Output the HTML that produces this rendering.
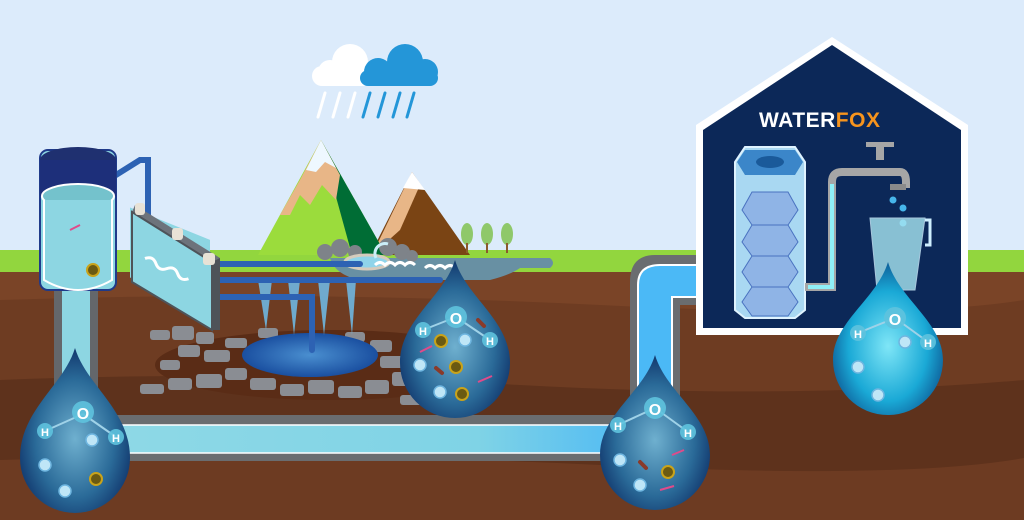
<!DOCTYPE html>
<html><head><meta charset="utf-8"><style>html,body{margin:0;padding:0;width:1024px;height:520px;overflow:hidden;background:#dcebfb}</style></head>
<body>
<svg width="1024" height="520" viewBox="0 0 1024 520" xmlns="http://www.w3.org/2000/svg" font-family="Liberation Sans, sans-serif">
<defs>
<radialGradient id="dg" cx="0.5" cy="0.55" r="0.6"><stop offset="0" stop-color="#6fb0cf"/><stop offset="0.6" stop-color="#2a6a98"/><stop offset="1" stop-color="#0b2a62"/></radialGradient>
<radialGradient id="dc" cx="0.5" cy="0.55" r="0.6"><stop offset="0" stop-color="#7fe6f7"/><stop offset="0.6" stop-color="#1aa9d6"/><stop offset="1" stop-color="#0b4a88"/></radialGradient>
<linearGradient id="pg" x1="0" x2="1"><stop offset="0" stop-color="#8fd9e6"/><stop offset="0.7" stop-color="#7fd3e6"/><stop offset="1" stop-color="#4cb8f5"/></linearGradient>
<radialGradient id="pool" cx="0.5" cy="0.5" r="0.5"><stop offset="0" stop-color="#4a8fd0"/><stop offset="1" stop-color="#1a4fa0"/></radialGradient>
</defs>
<rect width="1024" height="520" fill="#dcebfb"/>
<rect y="250" width="1024" height="25" fill="#92d63e"/>
<rect y="272" width="1024" height="248" fill="#7a4427"/>
<path d="M0 300 Q300 290 600 305 T1024 300 V520 H0Z" fill="#6e3c22"/>
<path d="M0 380 Q250 370 520 385 T1024 380 V520 H0Z" fill="#5e321c"/>
<path d="M0 460 Q300 450 600 465 T1024 458 V520 H0Z" fill="#6d3b22"/>
<!-- clouds -->
<g fill="#fff"><circle cx="330" cy="72" r="12"/><circle cx="350" cy="62" r="18"/><rect x="312" y="66" width="60" height="20" rx="10"/></g>
<g fill="#2496d8"><circle cx="378" cy="72" r="14"/><circle cx="405" cy="62" r="18"/><circle cx="425" cy="72" r="13"/><rect x="360" y="70" width="78" height="16" rx="8"/></g>
<g stroke="#fff" stroke-width="3" stroke-linecap="round"><line x1="325" y1="93" x2="318" y2="117"/><line x1="340" y1="93" x2="333" y2="117"/><line x1="355" y1="93" x2="348" y2="117"/></g>
<g stroke="#2496d8" stroke-width="3" stroke-linecap="round"><line x1="370" y1="93" x2="363" y2="117"/><line x1="385" y1="93" x2="378" y2="117"/><line x1="400" y1="93" x2="393" y2="117"/><line x1="414" y1="93" x2="407" y2="117"/></g>
<!-- mountains -->
<polygon points="370,255 412,172 470,255" fill="#7a4414"/>
<polygon points="372,255 412,172 420,185 400,230" fill="#e8b687"/>
<polygon points="403,188 412,172 425,190" fill="#fff"/>
<polygon points="258,255 321,140 386,255" fill="#9bdc3c"/>
<polygon points="321,140 386,255 352,255 330,175" fill="#006d35"/>
<polygon points="280,215 300,180 321,140 340,175 336,200 322,185 310,205 300,195 290,215" fill="#e8b687"/>
<polygon points="306,170 321,140 336,168 325,162 316,172" fill="#eef8ff"/>
<g fill="#8fc86a"><ellipse cx="467" cy="234" rx="6" ry="11"/><ellipse cx="487" cy="234" rx="6" ry="11"/><ellipse cx="507" cy="234" rx="6" ry="11"/></g>
<g stroke="#8a5a2b" stroke-width="2"><line x1="467" y1="243" x2="467" y2="253"/><line x1="487" y1="243" x2="487" y2="253"/><line x1="507" y1="243" x2="507" y2="253"/></g>
<!-- lake -->
<path d="M330 258 H550 Q556 263 550 268 H520 Q510 275 490 280 H360 Q335 275 330 258Z" fill="#6890a3"/>
<g fill="#7e8389"><circle cx="325" cy="252" r="8"/><circle cx="340" cy="248" r="9"/><circle cx="355" cy="252" r="7"/><circle cx="388" cy="247" r="9"/><circle cx="402" cy="252" r="8"/><circle cx="412" cy="256" r="6"/></g>
<ellipse cx="367" cy="262" rx="22" ry="7" fill="#8fd4ea" stroke="#d5cbbd" stroke-width="3"/>
<path d="M388 244 a10 10 0 0 0 -12 14" stroke="#cbeef8" stroke-width="3" fill="none"/>
<path d="M375 265 q5 -5 10 0 q5 -5 10 0 q5 -5 10 0 q5 -5 10 0 M425 268 q5 -5 10 0 q5 -5 10 0 q5 -5 10 0" stroke="#fff" stroke-width="3" fill="none"/>
<!-- rocks pit -->
<ellipse cx="330" cy="365" rx="175" ry="35" fill="#5a2c16"/>
<g fill="#8a8d93">
<rect x="150" y="330" width="20" height="10" rx="3"/><rect x="172" y="326" width="22" height="14" rx="3"/><rect x="196" y="332" width="18" height="12" rx="3"/><rect x="178" y="345" width="22" height="12" rx="3"/><rect x="204" y="350" width="26" height="12" rx="3"/><rect x="160" y="360" width="20" height="10" rx="3"/><rect x="140" y="384" width="24" height="10" rx="3"/><rect x="168" y="378" width="24" height="12" rx="3"/><rect x="196" y="374" width="26" height="14" rx="3"/><rect x="225" y="368" width="22" height="12" rx="3"/><rect x="250" y="378" width="26" height="12" rx="3"/><rect x="280" y="384" width="24" height="12" rx="3"/><rect x="308" y="380" width="26" height="14" rx="3"/><rect x="338" y="386" width="24" height="12" rx="3"/><rect x="365" y="380" width="24" height="14" rx="3"/><rect x="392" y="372" width="24" height="14" rx="3"/><rect x="400" y="395" width="24" height="10" rx="3"/><rect x="225" y="338" width="22" height="10" rx="3"/><rect x="258" y="328" width="20" height="10" rx="3"/><rect x="370" y="340" width="22" height="12" rx="3"/><rect x="380" y="356" width="24" height="12" rx="3"/><rect x="345" y="332" width="20" height="10" rx="3"/>
</g>
<ellipse cx="310" cy="355" rx="68" ry="22" fill="url(#pool)"/>
<!-- jets -->
<g fill="#6fb6e0" opacity="0.9"><polygon points="258,280 272,280 266,330"/><polygon points="288,280 300,280 294,335"/><polygon points="318,280 330,280 324,335"/><polygon points="346,280 356,280 352,335"/></g>
<!-- pipes blue small -->
<g stroke="#2d62b3" stroke-width="6" fill="none" stroke-linecap="round"><path d="M215 264 H360"/><path d="M215 280 H440"/><path d="M215 297 H312 V350"/><path d="M100 185 L140 160 H148 V260 L140 266"/></g>
<!-- tank -->
<rect x="130" y="210" width="80" height="70" fill="#8dd6e2" transform="skewY(22) translate(0,-55)"/>
<polygon points="132,212 135,205 220,258 217,266" fill="#6d737b"/>
<polygon points="212,262 220,258 220,330 212,330" fill="#4e5359"/>
<polygon points="132,212 212,262 212,330 132,282" fill="#8dd6e2" stroke="#4e5359" stroke-width="2"/>
<path d="M142 268 q6 -6 12 0 q6 6 12 0 q6 -6 12 0 q6 6 12 0" stroke="#fff" stroke-width="3" fill="none" transform="rotate(25 165 270)"/>
<g fill="#e8e2d6"><rect x="135" y="203" width="10" height="12" rx="3"/><rect x="172" y="228" width="11" height="12" rx="3"/><rect x="203" y="253" width="12" height="12" rx="3"/></g>
<!-- left vertical pipe -->
<rect x="54" y="290" width="44" height="140" fill="#64676b"/>
<rect x="62" y="290" width="28" height="140" fill="#8dd6e2"/>
<rect x="40" y="150" width="76" height="140" rx="8" fill="#8dd6e2" stroke="#1f3a8a" stroke-width="2"/>
<ellipse cx="78" cy="160" rx="38" ry="13" fill="#1f3070"/>
<rect x="40" y="160" width="76" height="36" fill="#1d2f7a"/>
<ellipse cx="78" cy="196" rx="36" ry="12" fill="#74c2cc" stroke="#fff" stroke-width="2"/>
<path d="M44 200 V280 Q78 300 112 280 V200" fill="#8dd6e2" stroke="#fff" stroke-width="2"/>
<!-- horizontal big pipe -->
<rect x="90" y="415" width="560" height="46" fill="#6a6d70"/>
<rect x="90" y="425" width="555" height="28" fill="url(#pg)" stroke="#fff" stroke-width="1.5"/>
<!-- right L pipe -->
<path d="M630 430 V282 Q630 255 655 255 H745 V305 H680 V430Z" fill="#6a6d70"/>
<path d="M638 430 V285 Q638 265 660 265 H740 V297 H672 V430Z" fill="#4bb9f6" stroke="#fff" stroke-width="2"/>
<!-- house -->
<polygon points="832,37 968,125 968,335 696,335 696,125" fill="#fff"/>
<polygon points="832,45 961,130 961,328 703,328 703,130" fill="#0c2858"/>
<text x="759" y="127" font-size="21" font-weight="bold" fill="#fff" letter-spacing="0.5">WATER<tspan fill="#f7941d">FOX</tspan></text>
<!-- filter -->
<polygon points="745,147 795,147 805,162 805,310 795,318 745,318 735,310 735,162" fill="#a9d8f2" stroke="#dff3ff" stroke-width="2"/>
<polygon points="745,150 795,150 803,162 795,175 745,175 737,162" fill="#3b86c9"/>
<ellipse cx="770" cy="162" rx="14" ry="6" fill="#1a5a9a"/>
<g fill="#8fb4e6" stroke="#4a72c0" stroke-width="1"><polygon points="752,192 788,192 798,210 788,225 752,225 742,210"/><polygon points="752,225 788,225 798,242 788,256 752,256 742,242"/><polygon points="752,256 788,256 798,272 788,287 752,287 742,272"/><polygon points="752,287 788,287 798,302 788,316 752,316 742,302"/></g>
<path d="M805 287 H832 V182 Q832 172 842 172 H900" stroke="#a6a6a6" stroke-width="8" fill="none"/>
<path d="M808 287 H832 V184" stroke="#8ff0f7" stroke-width="4" fill="none"/>
<rect x="876" y="144" width="8" height="16" fill="#a6a6a6"/><rect x="866" y="142" width="28" height="5" fill="#a6a6a6"/>
<path d="M870 172 H900 Q906 172 906 182 V188" stroke="#a6a6a6" stroke-width="8" fill="none"/>
<rect x="890" y="184" width="16" height="6" fill="#8a8a8a"/>
<g fill="#47b6ea"><circle cx="893" cy="200" r="3.5"/><circle cx="903" cy="208" r="3.5"/><circle cx="903" cy="223" r="3.5"/></g>
<path d="M870 218 H925 L915 290 H877Z" fill="#a8e6f2" opacity="0.8" stroke="#cfefff"/>
<path d="M925 220 H930 V245 H925" stroke="#cfefff" stroke-width="3" fill="none"/>
<!-- drops -->
<g id="d1"><path d="M75 348 C86 385 130 410 130 458 A55 55 0 0 1 20 458 C20 410 64 385 75 348Z" fill="url(#dg)"/></g>
<path d="M455 260 C466 297 510 320 510 363 A55 55 0 0 1 400 363 C400 320 444 297 455 260Z" fill="url(#dg)"/>
<path d="M655 355 C666 392 710 415 710 455 A55 55 0 0 1 600 455 C600 415 644 392 655 355Z" fill="url(#dg)"/>
<path d="M888 262 C899 299 943 322 943 360 A55 55 0 0 1 833 360 C833 322 877 299 888 262Z" fill="url(#dc)"/>
<!-- molecules -->
<g font-weight="bold" fill="#fff" text-anchor="middle">
<g stroke="#9fd2e8" stroke-width="2"><line x1="45" y1="431" x2="83" y2="414"/><line x1="83" y1="414" x2="116" y2="437"/><line x1="423" y1="330" x2="456" y2="317"/><line x1="456" y1="317" x2="490" y2="340"/><line x1="618" y1="425" x2="655" y2="408"/><line x1="655" y1="408" x2="688" y2="432"/><line x1="858" y1="333" x2="895" y2="318"/><line x1="895" y1="318" x2="928" y2="342"/></g>
<g fill="#5fc3de" opacity="0.9"><circle cx="83" cy="412" r="11"/><circle cx="45" cy="431" r="8"/><circle cx="116" cy="437" r="8"/><circle cx="456" cy="317" r="11"/><circle cx="423" cy="330" r="8"/><circle cx="490" cy="340" r="8"/><circle cx="655" cy="408" r="11"/><circle cx="618" cy="425" r="8"/><circle cx="688" cy="432" r="8"/><circle cx="895" cy="318" r="11"/><circle cx="858" cy="333" r="8"/><circle cx="928" cy="342" r="8"/></g>
<text x="83" y="419" font-size="16">O</text><text x="45" y="436" font-size="11">H</text><text x="116" y="442" font-size="11">H</text>
<text x="456" y="324" font-size="16">O</text><text x="423" y="335" font-size="11">H</text><text x="490" y="345" font-size="11">H</text>
<text x="655" y="415" font-size="16">O</text><text x="618" y="430" font-size="11">H</text><text x="688" y="437" font-size="11">H</text>
<text x="895" y="325" font-size="16">O</text><text x="858" y="338" font-size="11">H</text><text x="928" y="347" font-size="11">H</text>
</g>
<g fill="#bfe6f7" stroke="#6fb6e0" stroke-width="1.5"><circle cx="92" cy="440" r="6"/><circle cx="45" cy="465" r="6"/><circle cx="65" cy="491" r="6"/><circle cx="465" cy="340" r="6"/><circle cx="420" cy="365" r="6"/><circle cx="440" cy="392" r="6"/><circle cx="620" cy="460" r="6"/><circle cx="640" cy="485" r="6"/><circle cx="905" cy="342" r="6"/><circle cx="858" cy="367" r="6"/><circle cx="878" cy="395" r="6"/></g>
<g fill="#6b5a12" stroke="#c9a31a" stroke-width="2"><circle cx="96" cy="479" r="6"/><circle cx="93" cy="270" r="6"/><circle cx="441" cy="341" r="6"/><circle cx="456" cy="367" r="6"/><circle cx="462" cy="394" r="6"/><circle cx="668" cy="472" r="6"/></g>
<g stroke="#e04a8a" stroke-width="2"><line x1="420" y1="352" x2="432" y2="346"/><line x1="478" y1="382" x2="492" y2="376"/><line x1="70" y1="230" x2="80" y2="225"/><line x1="672" y1="455" x2="684" y2="450"/><line x1="660" y1="490" x2="674" y2="486"/></g>
<g stroke="#8a3a2a" stroke-width="4" stroke-linecap="round"><line x1="478" y1="320" x2="484" y2="326"/><line x1="436" y1="368" x2="442" y2="373"/><line x1="640" y1="462" x2="646" y2="468"/></g>
</svg>
</body></html>
